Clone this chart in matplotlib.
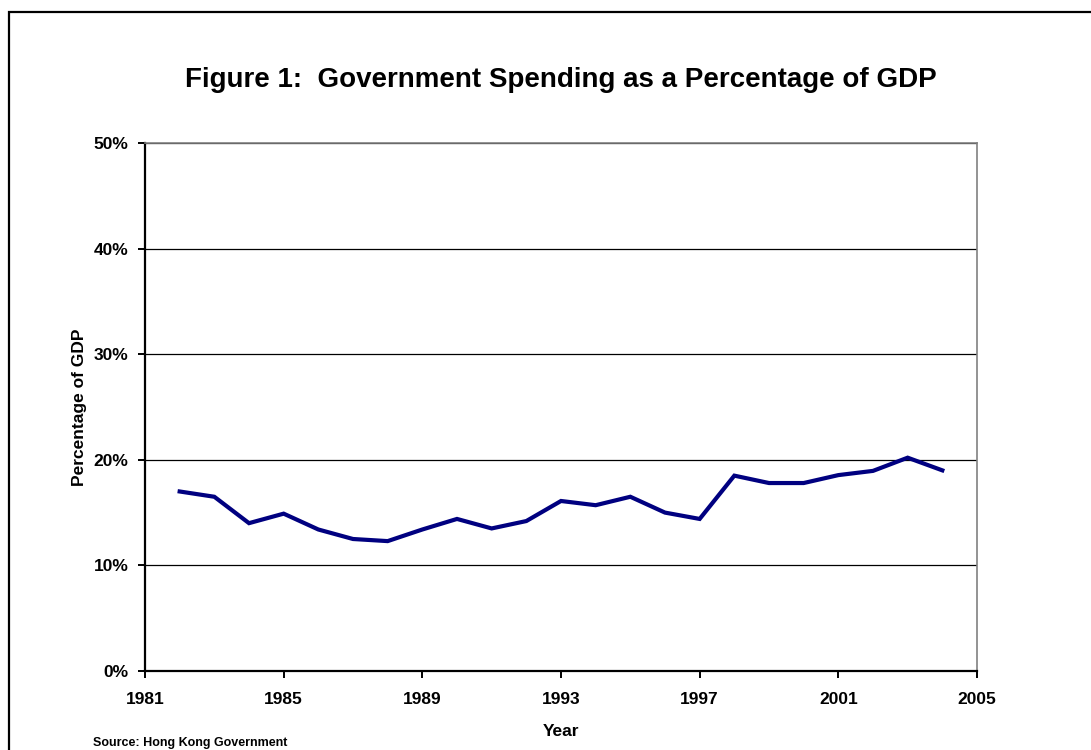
import matplotlib
matplotlib.use("Agg")
import matplotlib.pyplot as plt
from matplotlib.patches import Rectangle
from matplotlib.ticker import FuncFormatter

plt.rcParams['font.family'] = ['Liberation Sans', 'DejaVu Sans']

years = [1982, 1983, 1984, 1985, 1986, 1987, 1988, 1989, 1990, 1991, 1992, 1993,
         1994, 1995, 1996, 1997, 1998, 1999, 2000, 2001, 2002, 2003, 2004]
spending_pct = [17.0, 16.5, 14.0, 14.9, 13.4, 12.5, 12.3, 13.4, 14.4, 13.5, 14.2, 16.1,
                15.7, 16.5, 15.0, 14.4, 18.5, 17.8, 17.8, 18.55, 18.95, 20.2, 19.0]
x_ticks = [1981, 1985, 1989, 1993, 1997, 2001, 2005]
y_ticks = [0, 10, 20, 30, 40, 50]

W, H = 1091, 750
fig = plt.figure(figsize=(W / 100, H / 100), dpi=100)
fig.patch.set_facecolor('white')

# outer chart border (extends past right/bottom edge)
fig.patches.append(Rectangle((9 / W, -0.1), 1.2, 1 - 12 / H + 0.1,
                             transform=fig.transFigure, fill=False,
                             edgecolor='black', linewidth=1.6))

ax = fig.add_axes([145 / W, 1 - 671 / H, (977 - 145) / W, (671 - 143) / H])
ax.plot(years, spending_pct, color='#000080', linewidth=3.0, solid_joinstyle='miter')

ax.set_xlim(1981, 2005)
ax.set_ylim(0, 50)
ax.set_xticks(x_ticks)
ax.set_yticks(y_ticks)
ax.yaxis.set_major_formatter(FuncFormatter(lambda v, p: f"{int(v)}%"))
ax.grid(axis='y', color='black', linewidth=0.9)
ax.set_axisbelow(True)

for s in ['top', 'right']:
    ax.spines[s].set_color('#808080')
    ax.spines[s].set_linewidth(1.2)
for s in ['left', 'bottom']:
    ax.spines[s].set_color('black')
    ax.spines[s].set_linewidth(1.6)

ax.tick_params(axis='both', direction='out', length=5, width=1.4, color='black',
               labelsize=12.5)
ax.tick_params(axis='y', pad=7)
ax.tick_params(axis='x', pad=10)
for lab in ax.get_xticklabels() + ax.get_yticklabels():
    lab.set_fontweight('bold')

ax.set_xlabel('Year', fontsize=12.5, fontweight='bold', labelpad=12)
ax.set_ylabel('Percentage of GDP', fontsize=12.5, fontweight='bold', labelpad=5)

fig.text((145 + 977) / 2 / W, 1 - 80 / H, 'Figure 1:  Government Spending as a Percentage of GDP',
         ha='center', va='center', fontsize=20, fontweight='bold')
fig.text(93 / W, 1 - 746 / H, 'Source: Hong Kong Government',
         ha='left', va='baseline', fontsize=9, fontweight='bold')

fig.savefig('out.png', dpi=100, facecolor='white')
